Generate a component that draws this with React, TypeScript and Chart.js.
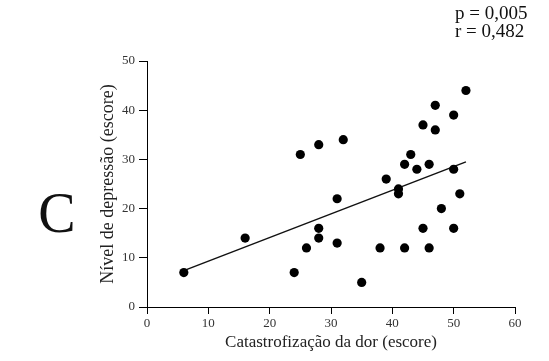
import React, { useEffect, useRef } from "react";
import { Chart, registerables } from "chart.js";

Chart.register(...registerables);

const xValues = [6, 16, 24, 25, 26, 28, 28, 28, 31, 31, 32, 35, 38, 39, 41, 41, 42, 42, 43, 44, 45, 45, 46, 46, 47, 47, 48, 50, 50, 50, 51, 52];
const yValues = [7, 14, 7, 31, 12, 33, 16, 14, 22, 13, 34, 5, 12, 26, 24, 23, 29, 12, 31, 28, 37, 16, 29, 12, 41, 36, 20, 39, 28, 16, 23, 44];
const fitX = [6, 52];
const fitY = [7.4, 29.5];
const panelLabel = "C";
const statLines = ["p = 0,005", "r = 0,482"];
const xTitle = "Catastrofização da dor (escore)";
const yTitle = "Nível de depressão (escore)";

const FONT = '"Liberation Serif", "Times New Roman", serif';

export default function App() {
  const ref = useRef<HTMLCanvasElement | null>(null);
  useEffect(() => {
    if (!ref.current) return;
    const textPlugin = {
      id: "extraText",
      afterDraw(chart: any) {
        const ctx = chart.ctx;
        ctx.save();
        ctx.fillStyle = "#111";
        ctx.font = `56px ${FONT}`;
        ctx.textAlign = "center";
        ctx.textBaseline = "middle";
        ctx.fillText(panelLabel, 57, 217);
        ctx.font = `19px ${FONT}`;
        ctx.textAlign = "left";
        ctx.textBaseline = "alphabetic";
        statLines.forEach((t, i) => ctx.fillText(t, 455, 19 + i * 18));
        ctx.restore();
      },
    };
    const chart = new Chart(ref.current, {
      type: "scatter",
      data: {
        datasets: [
          {
            type: "scatter",
            data: xValues.map((x, i) => ({ x, y: yValues[i] })),
            backgroundColor: "#000",
            borderWidth: 0,
            pointRadius: 4.6,
          },
          {
            type: "line",
            data: fitX.map((x, i) => ({ x, y: fitY[i] })),
            borderColor: "#111",
            borderWidth: 1.5,
            pointRadius: 0,
            fill: false,
          } as any,
        ],
      },
      options: {
        animation: false,
        responsive: false,
        layout: { padding: { left: 0, top: 61, right: 34, bottom: 0 } },
        plugins: { legend: { display: false }, tooltip: { enabled: false } },
        scales: {
          x: {
            type: "linear",
            min: 0,
            max: 60,
            ticks: { stepSize: 10, font: { family: FONT, size: 13 }, color: "#333", padding: 2 },
            grid: { drawOnChartArea: false, drawTicks: true, tickLength: 7, color: "#000" },
            border: { display: true, color: "#000", width: 1 },
            title: { display: true, text: xTitle, font: { family: FONT, size: 17 }, color: "#222", padding: { top: 0, bottom: 8 } },
            afterFit: (s: any) => { s.height = 54; },
          },
          y: {
            type: "linear",
            min: 0,
            max: 50,
            ticks: { stepSize: 10, font: { family: FONT, size: 13 }, color: "#333", padding: 4 },
            grid: { drawOnChartArea: false, drawTicks: true, tickLength: 8, color: "#000" },
            border: { display: true, color: "#000", width: 1 },
            title: { display: true, text: yTitle, font: { family: FONT, size: 18 }, color: "#222", padding: { top: 97, bottom: 0 } },
            afterFit: (s: any) => { s.width = 147; },
          },
        },
      },
      plugins: [textPlugin],
    });
    return () => chart.destroy();
  }, []);
  return (
    <div style={{ position: "fixed", left: 0, top: 0, width: 549, height: 361, background: "#fff" }}>
      <canvas ref={ref} width={549} height={361} />
    </div>
  );
}
